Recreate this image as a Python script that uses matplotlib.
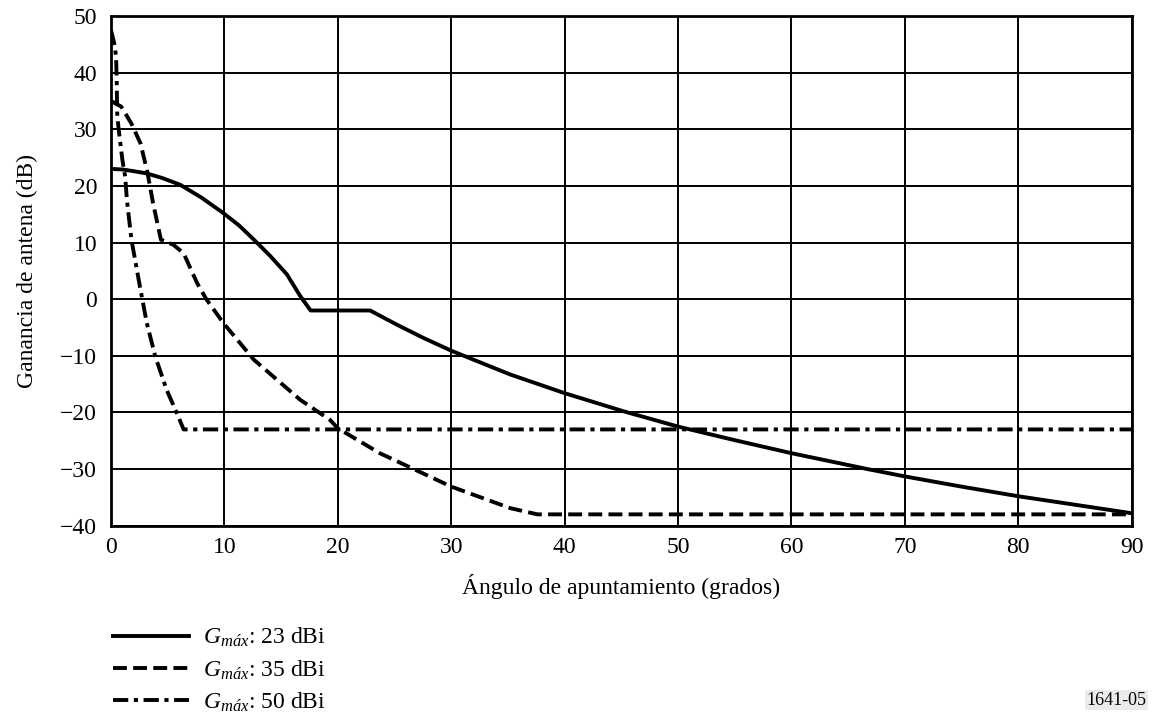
import matplotlib
matplotlib.use("Agg")
import matplotlib.pyplot as plt

plt.rcParams['font.family'] = ['Liberation Serif', 'DejaVu Serif']
plt.rcParams['mathtext.fontset'] = 'custom'
plt.rcParams['mathtext.rm'] = 'Liberation Serif'
plt.rcParams['mathtext.it'] = 'Liberation Serif:italic'
plt.rcParams['lines.scale_dashes'] = False

# G_max = 23 dBi (solid)
x23 = [0, 1, 2, 3.15, 4.5, 6.1, 8, 9.9, 11.3, 12.6, 14, 15.5, 16.7, 17.6,
       22.85, 25.2, 27.5, 30, 35.2, 40, 45.2, 50, 55, 60, 66.7, 70, 75, 80, 85, 90]
y23 = [23, 22.9, 22.6, 22.2, 21.4, 20.2, 17.9, 15.2, 13.0, 10.5, 7.7, 4.4, 0.5, -2,
       -2, -4.5, -6.8, -9.1, -13.3, -16.6, -19.8, -22.5, -24.9, -27.2, -30, -31.3,
       -33.1, -34.8, -36.3, -37.8]

# G_max = 35 dBi (dashed)
x35 = [0, 0.9, 1.8, 2.6, 3.2, 3.7, 4.4, 5.5, 6.4, 7.6, 8.4, 9.9, 12.6, 16.7,
       19.3, 20, 23.7, 30, 35.2, 37.6, 90]
y35 = [35, 34, 31, 27.5, 22.5, 17, 10.5, 9.6, 8.1, 2.8, 0, -4.2, -10.7, -17.8,
       -21.3, -22.8, -27.2, -33.1, -36.9, -38, -38]

# G_max = 50 dBi (dash-dot)
x50 = [0, 0.35, 0.45, 0.5, 0.55, 0.75, 1.0, 1.25, 1.4, 1.8, 2.55, 3.15, 3.9,
       4.9, 5.8, 6.4, 90]
y50 = [47.5, 44.6, 42.5, 38.4, 32.2, 28.7, 24.6, 21.6, 17.5, 10.5, 2.2, -4.2,
       -10.1, -16, -20.1, -23, -23]

labels = [r'$G_{máx}$: 23 dBi', r'$G_{máx}$: 35 dBi', r'$G_{máx}$: 50 dBi']
xticks = list(range(0, 91, 10))
yticks = list(range(-40, 51, 10))

fig = plt.figure(figsize=(11.53, 7.27), dpi=100)
ax = fig.add_axes([0.0963, 0.2769, 0.8852, 0.7011])

lw = 2.8
ax.plot(x23, y23, color='black', lw=lw, linestyle='-', label=labels[0])
ax.plot(x35, y35, color='black', lw=lw, linestyle=(0, (10, 4.5)), label=labels[1])
ax.plot(x50, y50, color='black', lw=lw, linestyle=(0, (11, 4, 3, 4)), label=labels[2])

ax.set_xlim(0, 90)
ax.set_ylim(-40, 50)
ax.set_xticks(xticks)
ax.set_yticks(yticks)
ax.set_yticklabels([str(v).replace('-', '\u2212') for v in yticks])
ax.grid(True, color='black', lw=1.4)
ax.set_axisbelow(True)
ax.tick_params(length=0, labelsize=17, pad=10)
ax.tick_params(axis='x', pad=8)
for s in ax.spines.values():
    s.set_linewidth(2.0)

ax.set_xlabel('Ángulo de apuntamiento (grados)', fontsize=17, labelpad=12)
ax.set_ylabel('Ganancia de antena (dB)', fontsize=17, labelpad=16)

fig.legend(loc='upper left', bbox_to_anchor=(0.09, 0.152), frameon=False,
           fontsize=17, handlelength=3.2, handletextpad=0.6, labelspacing=0.38,
           borderaxespad=0)

fig.text(0.968, 0.037, '1641-05', fontsize=13, ha='center', va='center',
         bbox=dict(facecolor='#ebebeb', edgecolor='none', pad=1))

fig.savefig('out.png', dpi=100)
